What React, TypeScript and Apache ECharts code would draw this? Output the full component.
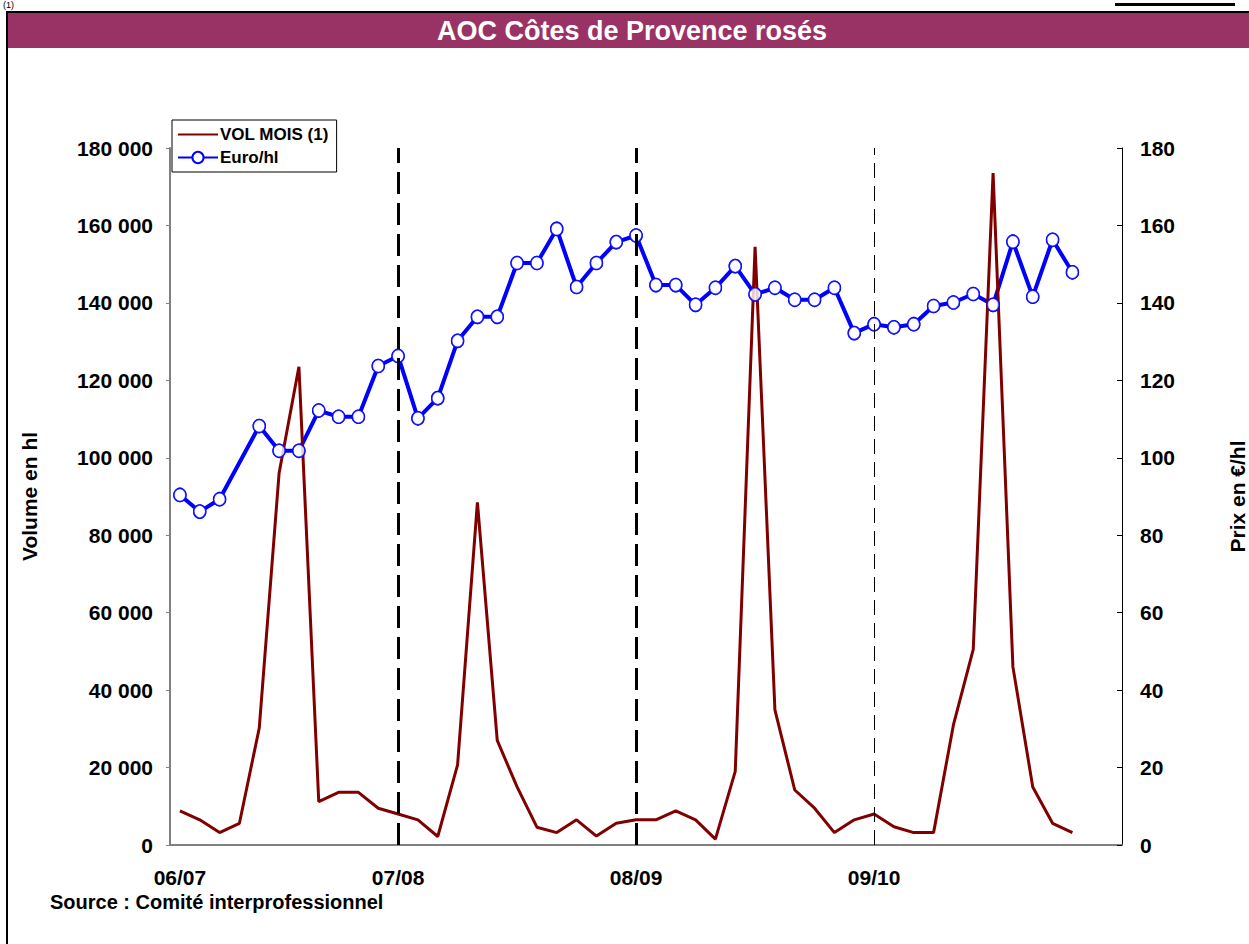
import React, { useEffect, useRef } from "react";
import * as echarts from "echarts";

const months = [
  "2006-09", "2006-10", "2006-11", "2006-12", "2007-01", "2007-02", "2007-03", "2007-04",
  "2007-05", "2007-06", "2007-07", "2007-08", "2007-09", "2007-10", "2007-11", "2007-12",
  "2008-01", "2008-02", "2008-03", "2008-04", "2008-05", "2008-06", "2008-07", "2008-08",
  "2008-09", "2008-10", "2008-11", "2008-12", "2009-01", "2009-02", "2009-03", "2009-04",
  "2009-05", "2009-06", "2009-07", "2009-08", "2009-09", "2009-10", "2009-11", "2009-12",
  "2010-01", "2010-02", "2010-03", "2010-04", "2010-05", "2010-06", "2010-07", "2010-08",
];

const seasonTicks: Record<string, string> = {
  "2006-09": "06/07",
  "2007-08": "07/08",
  "2008-08": "08/09",
  "2009-08": "09/10",
};

const volMois = [
  8800, 6500, 3200, 5600, 30200, 96000, 123500, 11200, 13600, 13600, 9500, 8000,
  6500, 2200, 20700, 88500, 27000, 15000, 4600, 3200, 6500, 2300, 5600, 6500,
  6500, 8800, 6500, 1500, 19000, 154500, 34900, 14200, 9500, 3200, 6500, 8000,
  4700, 3200, 3200, 31000, 50500, 173500, 46000, 15000, 5600, 3200, null, null,
];

const euroHl = [
  90.4, 86.1, 89.3, null, 108.2, 101.8, 101.8, 112.2, 110.6, 110.6, 123.7, 126.3,
  110.2, 115.4, 130.2, 136.4, 136.4, 150.3, 150.3, 159.1, 144.1, 150.3, 155.7, 157.4,
  144.6, 144.6, 139.5, 143.9, 149.5, 142.2, 143.9, 140.8, 140.8, 143.9, 132.2, 134.5,
  133.7, 134.5, 139.2, 140.1, 142.3, 139.5, 155.8, 141.6, 156.3, 147.9, null, null,
];

const FONT = "'Liberation Sans', Arial, sans-serif";

const fmtThousands = (v: number) =>
  String(v).replace(/\B(?=(\d{3})+(?!\d))/g, " ");

export default function App() {
  const ref = useRef<HTMLDivElement>(null);

  useEffect(() => {
    if (!ref.current) return;
    const chart = echarts.init(ref.current, undefined, { renderer: "svg" });
    const thick = { color: "#000", width: 3, type: [22, 9] as any };
    const thin = { color: "#000", width: 1, type: [15, 8] as any };
    const labelFont = { fontFamily: FONT, fontWeight: "bold", fontSize: 21, color: "#000" };
    const nameFont = { fontFamily: FONT, fontWeight: "bold", fontSize: 21, color: "#000" };
    chart.setOption({
      animation: false,
      backgroundColor: "#fff",
      textStyle: { fontFamily: FONT },
      grid: {
        left: 170,
        right: 127,
        top: 148,
        bottom: 99,
        containLabel: false,
        outerBoundsMode: "none",
      },
      legend: {
        orient: "vertical",
        left: 172,
        top: 120,
        padding: [6, 8, 6, 5],
        itemWidth: 40,
        itemHeight: 14,
        itemGap: 6,
        borderColor: "#000",
        borderWidth: 1,
        backgroundColor: "#fff",
        textStyle: {
          fontFamily: FONT,
          fontWeight: "bold",
          fontSize: 17,
          lineHeight: 17,
          color: "#000",
          padding: [0, 0, 0, -3],
        },
        data: [
          { name: "VOL MOIS (1)", itemStyle: { opacity: 0 } },
          { name: "Euro/hl" },
        ],
      },
      xAxis: {
        type: "category",
        data: months,
        boundaryGap: true,
        axisLine: { lineStyle: { color: "#808080", width: 2 } },
        axisTick: { show: false },
        axisLabel: {
          interval: (_i: number, v: string) => v in seasonTicks,
          formatter: (v: string) => seasonTicks[v] || "",
          margin: 22,
          ...labelFont,
        },
        splitLine: { show: false },
      },
      yAxis: [
        {
          type: "value",
          min: 0,
          max: 180000,
          interval: 20000,
          name: "Volume en hl",
          nameLocation: "middle",
          nameRotate: 90,
          nameGap: 130,
          nameTextStyle: nameFont,
          axisLine: { show: true, lineStyle: { color: "#808080", width: 2 } },
          axisTick: { show: true, length: 4, lineStyle: { color: "#808080", width: 1 } },
          axisLabel: {
            formatter: (v: number) => fmtThousands(v),
            margin: 17,
            ...labelFont,
          },
          splitLine: { show: false },
        },
        {
          type: "value",
          min: 0,
          max: 180,
          interval: 20,
          position: "right",
          name: "Prix en €/hl",
          nameLocation: "middle",
          nameRotate: 90,
          nameGap: 105,
          nameTextStyle: nameFont,
          axisLine: { show: true, lineStyle: { color: "#000", width: 1 } },
          axisTick: { show: true, inside: true, length: 5, lineStyle: { color: "#000", width: 1 } },
          axisLabel: {
            margin: 18,
            ...labelFont,
          },
          splitLine: { show: false },
        },
      ],
      series: [
        {
          name: "Euro/hl",
          type: "line",
          yAxisIndex: 1,
          data: euroHl,
          connectNulls: true,
          z: 2,
          symbol: "circle",
          symbolSize: [12, 13],
          showSymbol: true,
          lineStyle: { color: "#0000ff", width: 4 },
          itemStyle: { color: "#ffffff", borderColor: "#0000ff", borderWidth: 1.5 },
          emphasis: { disabled: true },
        },
        {
          name: "VOL MOIS (1)",
          type: "line",
          yAxisIndex: 0,
          data: volMois,
          z: 3,
          symbol: "none",
          lineStyle: { color: "#800000", width: 3 },
          itemStyle: { color: "#800000" },
          emphasis: { disabled: true },
          markLine: {
            silent: true,
            symbol: "none",
            label: { show: false },
            data: [
              { xAxis: "2007-08", lineStyle: thick },
              { xAxis: "2008-08", lineStyle: thick },
              { xAxis: "2009-08", lineStyle: thin },
            ],
          },
        },
        {
          name: "Euro/hl markers",
          type: "scatter",
          yAxisIndex: 1,
          data: euroHl,
          z: 4,
          silent: true,
          symbol: "circle",
          symbolSize: [12, 13],
          itemStyle: { color: "#ffffff", borderColor: "#0000ff", borderWidth: 1.5 },
        },
      ],
      graphic: [
        {
          type: "rect",
          shape: { x: 7, y: 12, width: 1260, height: 960 },
          style: { fill: "none", stroke: "#000", lineWidth: 2 },
          z: 100,
        },
        {
          type: "rect",
          shape: { x: 8, y: 13, width: 1241, height: 35 },
          style: { fill: "#993366" },
          z: 100,
        },
        {
          type: "text",
          x: 632,
          y: 31,
          style: {
            text: "AOC Côtes de Provence rosés",
            fill: "#fff",
            font: "bold 27px 'Liberation Sans', Arial, sans-serif",
            align: "center",
            verticalAlign: "middle",
          },
          z: 101,
        },
        {
          type: "text",
          x: 50,
          y: 902,
          style: {
            text: "Source : Comité interprofessionnel",
            fill: "#000",
            font: "bold 20px 'Liberation Sans', Arial, sans-serif",
            verticalAlign: "middle",
          },
          z: 101,
        },
        {
          type: "text",
          x: 3,
          y: 0,
          style: {
            text: "(1)",
            fill: "#000",
            font: "9px 'Liberation Sans', Arial, sans-serif",
          },
          z: 101,
        },
        {
          type: "rect",
          shape: { x: 1115, y: 3, width: 120, height: 3 },
          style: { fill: "#000" },
          z: 101,
        },
      ],
    });
    return () => chart.dispose();
  }, []);

  return (
    <div
      ref={ref}
      style={{ position: "fixed", left: 0, top: 0, width: 1249, height: 944, background: "#fff" }}
    />
  );
}
